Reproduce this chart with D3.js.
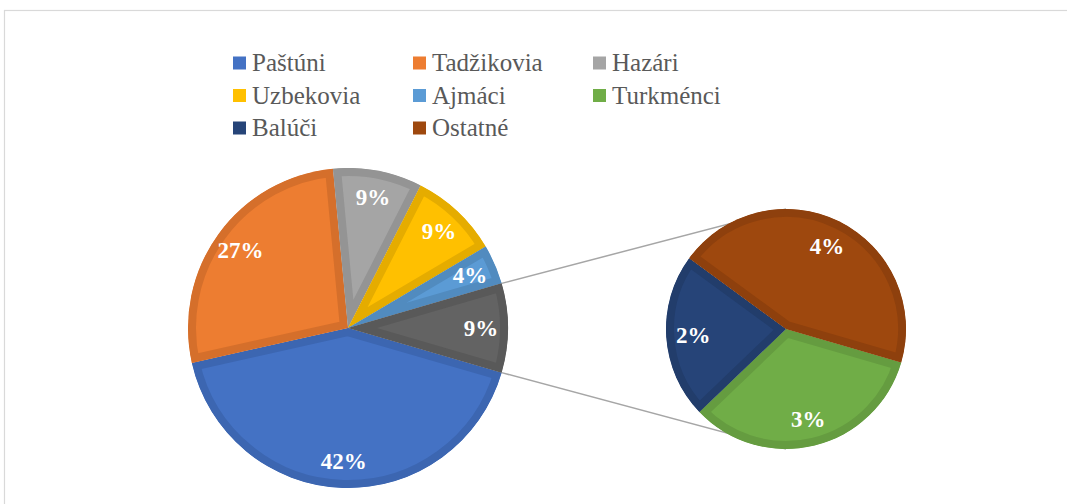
<!DOCTYPE html>
<html>
<head>
<meta charset="utf-8">
<script src="https://cdn.jsdelivr.net/npm/d3@7"></script>
<style>
  body { margin: 0; background: #fff; }
</style>
</head>
<body>
<div id="chart"></div>
<script>
// Data (percent)
const mainNames = ['Paštúni', 'Tadžikovia', 'Hazári', 'Uzbekovia', 'Ajmáci'];
const mainValues = [42, 27, 9, 9, 4];
const subNames = ['Turkménci', 'Balúči', 'Ostatné'];
const subValues = [3, 2, 4];
const legendNames = ['Paštúni', 'Tadžikovia', 'Hazári', 'Uzbekovia', 'Ajmáci', 'Turkménci', 'Balúči', 'Ostatné'];

const serif = '"Liberation Serif"';

const fills = {
    'Paštúni': ['#4472c4', '#3c66b1'],
    'Tadžikovia': ['#ed7d31', '#d56f2b'],
    'Hazári': ['#a5a5a5', '#949494'],
    'Uzbekovia': ['#ffc000', '#e5ac00'],
    'Ajmáci': ['#5b9bd5', '#518bbf'],
    'Turkménci': ['#70ad47', '#659c40'],
    'Balúči': ['#264478', '#223d6b'],
    'Ostatné': ['#9e480e', '#8e400d'],
    'other': ['#636363', '#595959']
};

class PieOfPie {

    constructor(_config = {}) {
        this.config = {
            parentElement: _config.parentElement,
            containerWidth: 1067,
            containerHeight: 504,
            main: { cx: 348, cy: 328, r: 160, labelR: 133 },
            sub: { cx: 786, cy: 329, r: 120, labelR: 93 },
            band: 8
        };
        this.initVis();
    }

    initVis() {
        let vis = this;
        let { parentElement, containerWidth, containerHeight } = vis.config;

        vis.svg = d3.select(parentElement).append('svg')
            .attr('width', containerWidth)
            .attr('height', containerHeight);

        vis.defs = vis.svg.append('defs');

        // chart area frame
        vis.svg.append('rect')
            .attr('x', 4.5).attr('y', 10.5)
            .attr('width', 1100).attr('height', 600)
            .attr('fill', 'none')
            .attr('stroke', '#d9d9d9')
            .attr('stroke-width', 1.2);

        vis.renderVis();
    }

    renderVis() {
        let vis = this;
        let { main, sub, band } = vis.config;

        const otherTotal = d3.sum(subValues);
        const total = d3.sum(mainValues) + otherTotal;
        const halfOther = Math.PI * otherTotal / total;
        const start = Math.PI / 2 + halfOther;

        const mainData = mainNames.map((n, i) => ({ name: n, value: mainValues[i], key: n }));
        mainData.push({ name: 'other', value: otherTotal, key: 'other' });
        const subData = subNames.map((n, i) => ({ name: n, value: subValues[i], key: n }));

        const pie = d3.pie().sort(null).value(d => d.value)
            .startAngle(start).endAngle(start + 2 * Math.PI);

        const mainArcs = pie(mainData);
        const subArcs = pie(subData);

        // connector lines (behind pies)
        const otherArc = mainArcs[mainArcs.length - 1];
        const pt = a => [main.cx + main.r * Math.sin(a), main.cy - main.r * Math.cos(a)];
        const p1 = pt(otherArc.startAngle);
        const p2 = pt(otherArc.endAngle);
        const lines = [
            [p1, [sub.cx, sub.cy - sub.r]],
            [p2, [sub.cx, sub.cy + sub.r]]
        ];
        vis.svg.selectAll('.connector')
            .data(lines)
            .join('line')
            .attr('class', 'connector')
            .attr('x1', d => d[0][0]).attr('y1', d => d[0][1])
            .attr('x2', d => d[1][0]).attr('y2', d => d[1][1])
            .attr('stroke', '#a6a6a6')
            .attr('stroke-width', 1.5);

        vis.drawPie(mainArcs, main, 'm', band);
        vis.drawPie(subArcs, sub, 's', band);

        // legend
        const colX = [233, 413, 593];
        const rowY = [63, 95.5, 128];
        const leg = vis.svg.selectAll('.legend-item')
            .data(legendNames)
            .join('g')
            .attr('class', 'legend-item')
            .attr('transform', (d, i) => `translate(${colX[i % 3]},${rowY[Math.floor(i / 3)]})`);
        leg.append('rect')
            .attr('x', 0).attr('y', -6.5)
            .attr('width', 13).attr('height', 13)
            .attr('fill', d => fills[d][0]);
        leg.append('text')
            .attr('x', 19)
            .attr('dy', '0.33em')
            .style('font-family', serif)
            .style('font-size', '25px')
            .style('fill', '#595959')
            .text(d => d);
    }

    drawPie(arcs, geo, prefix, band) {
        let vis = this;
        const arc = d3.arc().innerRadius(0).outerRadius(geo.r);

        const g = vis.svg.append('g')
            .attr('transform', `translate(${geo.cx},${geo.cy})`);

        // one clip per slice so the darker edge stays inside it
        vis.defs.selectAll(`.clip-${prefix}`)
            .data(arcs)
            .join('clipPath')
            .attr('class', `clip-${prefix}`)
            .attr('id', (d, i) => `clip-${prefix}-${i}`)
            .append('path')
            .attr('d', arc);

        g.selectAll('.slice')
            .data(arcs)
            .join('g')
            .attr('class', 'slice')
            .attr('clip-path', (d, i) => `url(#clip-${prefix}-${i})`)
            .append('path')
            .attr('d', arc)
            .attr('fill', d => fills[d.data.key][0])
            .attr('stroke', d => fills[d.data.key][1])
            .attr('stroke-width', band * 2);

        const labelArc = d3.arc().innerRadius(geo.labelR).outerRadius(geo.labelR);
        g.selectAll('.slice-label')
            .data(arcs)
            .join('text')
            .attr('class', 'slice-label')
            .attr('text-anchor', 'middle')
            .attr('dy', '0.35em')
            .attr('transform', d => `translate(${labelArc.centroid(d)})`)
            .style('font-family', serif)
            .style('font-size', '23px')
            .style('font-weight', 'bold')
            .style('fill', '#fff')
            .text(d => d.data.value + '%');
    }
}

new PieOfPie({ parentElement: '#chart' });
</script>
</body>
</html>
